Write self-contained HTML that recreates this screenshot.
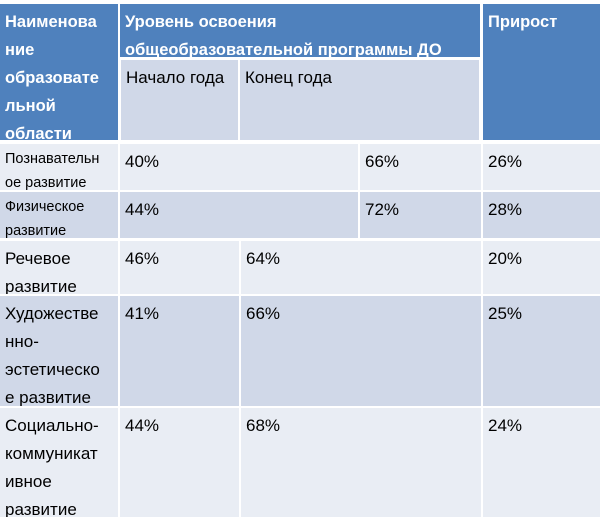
<!DOCTYPE html>
<html><head><meta charset="utf-8"><style>
html,body{margin:0;padding:0;background:#fff;}
body{width:600px;height:529px;position:relative;overflow:hidden;font-family:"Liberation Sans","Noto Sans CJK SC",sans-serif;}
.c{position:absolute;box-sizing:border-box;padding:0 0 0 5px;color:#000;font-size:17px;line-height:28px;overflow:hidden;white-space:nowrap;}
.h{background:#4f81bd;color:#fff;font-weight:bold;font-size:16.5px;line-height:28px;padding-top:4px;}
.l{background:#e9edf4;}
.d{background:#d0d8e8;}
.sm{font-size:14.5px;line-height:24px;padding-top:3px;}
.v{padding-top:4px;}
</style></head><body>
<div class="c h" style="left:0;top:4px;width:118px;height:136px">Наименова<br>ние<br>образовате<br>льной<br>области</div>
<div class="c h" style="left:120px;top:4px;width:360px;height:53px">Уровень освоения<br>общеобразовательной программы ДО</div>
<div class="c h" style="left:483px;top:4px;width:117px;height:136px">Прирост</div>
<div class="c d v" style="left:121px;top:60px;width:117px;height:80px">Начало года</div>
<div class="c d v" style="left:240px;top:60px;width:239px;height:80px">Конец года</div>

<div class="c l sm" style="left:0;top:144px;width:118px;height:46px">Познавательн<br>ое развитие</div>
<div class="c l v" style="left:120px;top:144px;width:238px;height:46px">40%</div>
<div class="c l v" style="left:360px;top:144px;width:121px;height:46px">66%</div>
<div class="c l v" style="left:483px;top:144px;width:117px;height:46px">26%</div>

<div class="c d sm" style="left:0;top:192px;width:118px;height:46px">Физическое<br>развитие</div>
<div class="c d v" style="left:120px;top:192px;width:238px;height:46px">44%</div>
<div class="c d v" style="left:360px;top:192px;width:121px;height:46px">72%</div>
<div class="c d v" style="left:483px;top:192px;width:117px;height:46px">28%</div>

<div class="c l v" style="left:0;top:241px;width:118px;height:53px">Речевое<br>развитие</div>
<div class="c l v" style="left:120px;top:241px;width:119px;height:53px">46%</div>
<div class="c l v" style="left:241px;top:241px;width:240px;height:53px">64%</div>
<div class="c l v" style="left:483px;top:241px;width:117px;height:53px">20%</div>

<div class="c d v" style="left:0;top:296px;width:118px;height:110px">Художестве<br>нно-<br>эстетическо<br>е развитие</div>
<div class="c d v" style="left:120px;top:296px;width:119px;height:110px">41%</div>
<div class="c d v" style="left:241px;top:296px;width:240px;height:110px">66%</div>
<div class="c d v" style="left:483px;top:296px;width:117px;height:110px">25%</div>

<div class="c l v" style="left:0;top:408px;width:118px;height:109px">Социально-<br>коммуникат<br>ивное<br>развитие</div>
<div class="c l v" style="left:120px;top:408px;width:119px;height:109px">44%</div>
<div class="c l v" style="left:241px;top:408px;width:240px;height:109px">68%</div>
<div class="c l v" style="left:483px;top:408px;width:117px;height:109px">24%</div>
</body></html>
